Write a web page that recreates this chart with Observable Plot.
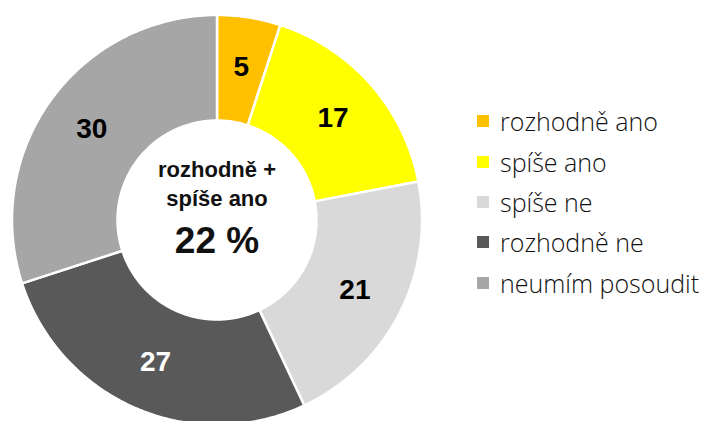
<!DOCTYPE html>
<html>
<head>
<meta charset="utf-8">
<script src="https://cdn.jsdelivr.net/npm/d3@7"></script>
<script src="https://cdn.jsdelivr.net/npm/@observablehq/plot@0.6"></script>
<style>
  html, body { margin: 0; padding: 0; background: #fff; overflow: hidden; }
  #wrap { position: relative; width: 710px; height: 421px; }
  #legend { position: absolute; left: 477px; top: 101px; font-family: "Open Sans", "Noto Sans", sans-serif; font-weight: 300; font-size: 25px; color: #111; white-space: nowrap; }
  .row { display: flex; align-items: center; height: 40.4px; }
  .sw { width: 12px; height: 12px; margin-right: 11px; flex: none; }
</style>
</head>
<body>
<div id="wrap"><div id="chart"></div><div id="legend"></div></div>
<script>
const categories = ["rozhodně ano", "spíše ano", "spíše ne", "rozhodně ne", "neumím posoudit"];
const values = [5, 17, 21, 27, 30];
const colors = ["#FFC000", "#FFFF00", "#D9D9D9", "#595959", "#A6A6A6"];
const labelColors = ["#000", "#000", "#000", "#fff", "#000"];
const centerLines = ["rozhodně +", "spíše ano"];
const centerSum = values[0] + values[1];

const inner = 99.5 / 205;
const total = d3.sum(values);
let cum = 0;
const polys = [];
const labels = [];
values.forEach((v, i) => {
  const a0 = cum / total * 2 * Math.PI;
  cum += v;
  const a1 = cum / total * 2 * Math.PI;
  const n = Math.max(4, Math.ceil((a1 - a0) / (Math.PI / 360)));
  const pts = [];
  for (let k = 0; k <= n; k++) { const a = a0 + (a1 - a0) * k / n; pts.push([Math.sin(a), Math.cos(a)]); }
  for (let k = n; k >= 0; k--) { const a = a0 + (a1 - a0) * k / n; pts.push([inner * Math.sin(a), inner * Math.cos(a)]); }
  pts.push(pts[0]);
  pts.forEach(([x, y]) => polys.push({cat: categories[i], x, y}));
  const am = (a0 + a1) / 2, r = 0.755;
  labels.push({x: r * Math.sin(am), y: r * Math.cos(am), text: String(v), color: labelColors[i]});
});

const plot = Plot.plot({
  width: 710,
  height: 421,
  margin: 0,
  x: {domain: [-1, 1], range: [11.5, 421.5], axis: null},
  y: {domain: [-1, 1], range: [424.5, 14.5], axis: null},
  color: {domain: categories, range: colors},
  style: {overflow: "hidden"},
  marks: [
    Plot.line(polys, {x: "x", y: "y", z: "cat", fill: "cat", stroke: "#fff", strokeWidth: 2.5, curve: "linear"}),
    Plot.text(labels, {x: "x", y: "y", text: "text", fill: "color", fontSize: 28, fontWeight: "bold", fontFamily: "Liberation Sans, Arial, sans-serif"}),
    Plot.text([centerLines[0]], {x: () => 0, y: () => 0, text: d => d, dy: -49.8, fontSize: 22, fontWeight: "bold", fill: "#111", fontFamily: "Liberation Sans, Arial, sans-serif"}),
    Plot.text([centerLines[1]], {x: () => 0, y: () => 0, text: d => d, dy: -21.5, fontSize: 22, fontWeight: "bold", fill: "#111", fontFamily: "Liberation Sans, Arial, sans-serif"}),
    Plot.text([centerSum], {x: () => 0, y: () => 0, text: d => d + " %", dy: 20.7, fontSize: 37, fontWeight: "bold", fill: "#111", fontFamily: "Liberation Sans, Arial, sans-serif"})
  ]
});
document.getElementById("chart").appendChild(plot);

const color = plot.scale("color");
const leg = d3.select("#legend");
categories.forEach((c, i) => {
  const row = leg.append("div").attr("class", "row");
  row.append("div").attr("class", "sw").style("background", color.range[i]);
  row.append("span").text(c);
});
</script>
</body>
</html>
